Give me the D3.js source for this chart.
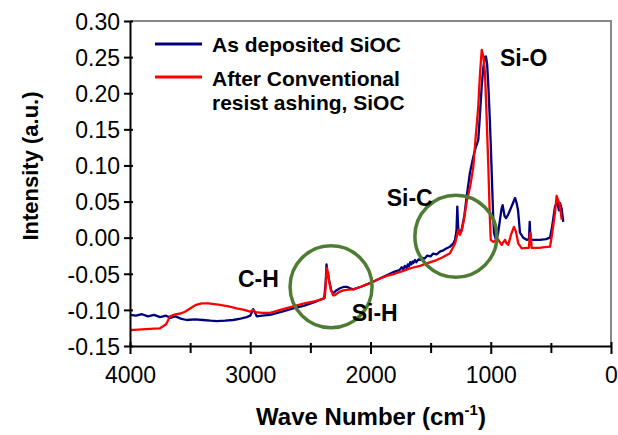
<!DOCTYPE html>
<html>
<head>
<meta charset="utf-8">
<script src="https://cdn.jsdelivr.net/npm/d3@7"></script>
<style>
  html, body { margin: 0; padding: 0; background: #fff; }
  svg { display: block; }
  text { font-family: "Liberation Sans", Arial, sans-serif; fill: #000; }
</style>
</head>
<body>
<svg id="chart" width="618" height="435"></svg>
<script>
// FTIR spectra of SiOC film: as deposited vs. after conventional resist ashing
const depWave = [4000,3950,3900,3850,3800,3750,3700,3667,3620,3580,3528,3460,3393,3330,3279,3210,3143,3080,3030,3000,2975,2960,2946,2900,2836,2750,2642,2550,2460,2420,2385,2372,2366,2360,2352,2340,2325,2309,2285,2254,2220,2198,2170,2143,2080,2004,1940,1865,1800,1760,1740,1727,1715,1700,1690,1680,1670,1660,1650,1644,1630,1620,1600,1588,1570,1550,1530,1500,1480,1450,1420,1400,1370,1339,1311,1297,1285,1278,1271,1264,1242,1220,1200,1173,1145,1125,1104,1090,1075,1062,1050,1040,1030,1020,1012,1000,992,980,973,956,940,923,910,901,885,873,855,840,815,798,785,773,757,730,701,682,676,670,665,620,590,540,507,490,466,447,433,424,410,397];
const depIntensity = [-0.107,-0.108,-0.106,-0.109,-0.107,-0.110,-0.108,-0.111,-0.109,-0.112,-0.114,-0.113,-0.114,-0.115,-0.1155,-0.115,-0.114,-0.112,-0.110,-0.108,-0.099,-0.104,-0.109,-0.108,-0.107,-0.103,-0.098,-0.094,-0.089,-0.086,-0.084,-0.060,-0.037,-0.045,-0.052,-0.062,-0.074,-0.077,-0.073,-0.070,-0.068,-0.068,-0.070,-0.0715,-0.068,-0.063,-0.058,-0.052,-0.047,-0.045,-0.041,-0.044,-0.039,-0.042,-0.037,-0.040,-0.034,-0.037,-0.033,-0.035,-0.031,-0.034,-0.030,-0.031,-0.028,-0.029,-0.025,-0.026,-0.022,-0.023,-0.019,-0.018,-0.015,-0.0125,-0.008,-0.003,0.010,0.043,0.015,0.006,0.011,0.030,0.057,0.090,0.112,0.125,0.135,0.170,0.210,0.235,0.250,0.251,0.240,0.210,0.181,0.130,0.090,0.030,0.007,-0.003,0.005,0.025,0.040,0.045,0.030,0.027,0.032,0.038,0.048,0.055,0.048,0.038,0.007,0.000,-0.003,-0.002,0.022,-0.002,-0.003,-0.003,-0.003,-0.002,0.000,0.015,0.043,0.050,0.038,0.048,0.040,0.022];

const ashWave = [4000,3900,3800,3751,3700,3667,3640,3612,3580,3543,3500,3450,3404,3350,3300,3252,3180,3113,3050,3002,2975,2960,2900,2836,2750,2642,2550,2460,2400,2380,2372,2366,2362,2357,2352,2345,2330,2310,2295,2260,2226,2180,2143,2080,2004,1940,1865,1800,1727,1660,1588,1520,1450,1400,1339,1311,1297,1283,1270,1256,1240,1220,1200,1170,1145,1125,1104,1090,1075,1060,1048,1035,1020,1008,1000,979,960,940,925,909,895,881,868,854,830,807,790,771,743,700,682,675,668,660,600,550,507,490,466,452,440,430,420,410];
const ashIntensity = [-0.128,-0.127,-0.126,-0.1255,-0.120,-0.109,-0.107,-0.106,-0.105,-0.1025,-0.098,-0.093,-0.091,-0.091,-0.092,-0.093,-0.095,-0.098,-0.100,-0.1025,-0.100,-0.103,-0.104,-0.104,-0.100,-0.095,-0.091,-0.088,-0.085,-0.083,-0.065,-0.045,-0.042,-0.055,-0.048,-0.060,-0.072,-0.080,-0.0795,-0.075,-0.073,-0.072,-0.0715,-0.068,-0.063,-0.058,-0.053,-0.050,-0.046,-0.042,-0.039,-0.035,-0.031,-0.027,-0.0215,-0.0125,-0.008,0.001,0.011,0.004,0.010,0.028,0.050,0.072,0.098,0.140,0.181,0.225,0.260,0.250,0.228,0.170,0.098,0.030,-0.003,-0.006,-0.004,-0.002,-0.006,-0.010,-0.006,-0.003,-0.008,-0.010,0.005,0.015,0.008,-0.008,-0.0147,-0.014,-0.014,0.006,0.006,-0.014,-0.014,-0.013,-0.0125,0.005,0.034,0.058,0.052,0.048,0.038,0.025];

const xTickValues = [4000,3500,3000,2500,2000,1500,1000,500,0];
const xTickLabels = ["4000","","3000","","2000","","1000","","0"];
const yTickValues = [-0.15,-0.10,-0.05,0.00,0.05,0.10,0.15,0.20,0.25,0.30];
const yTickLabels = ["-0.15","-0.10","-0.05","0.00","0.05","0.10","0.15","0.20","0.25","0.30"];

const seriesNames = ["As deposited SiOC", "After Conventional|resist ashing, SiOC"];
const seriesColors = ["#00007f", "#ff0000"];

// Band annotations: label, wave number, intensity at the text baseline
const bandLabels = [
  { text: "Si-O", wn: 923,  v: 0.238 },
  { text: "Si-C", wn: 1865, v: 0.044 },
  { text: "C-H",  wn: 3102, v: -0.068 },
  { text: "Si-H", wn: 2156, v: -0.116 }
];
// Highlight rings around the bands of interest
const rings = [
  { wn: 2328, v: -0.068 },
  { wn: 1290, v: 0.002 }
];

const svg = d3.select("#chart");
const x = d3.scaleLinear().domain([4000, 0]).range([130, 611]);
const y = d3.scaleLinear().domain([-0.15, 0.30]).range([346, 21]);

// Plot frame: grey top and right edges
svg.append("path")
  .attr("d", `M${x(4000)},${y(0.30)}H${x(0)}V${y(-0.15)}`)
  .attr("fill", "none").attr("stroke", "#888").attr("stroke-width", 2);

// Spectra
const line = d3.line().x(d => x(d[0])).y(d => y(d[1]));
const depData = depWave.map((w, i) => [w, depIntensity[i]]);
const ashData = ashWave.map((w, i) => [w, ashIntensity[i]]);
svg.append("path").datum(depData).attr("d", line)
  .attr("fill", "none").attr("stroke", seriesColors[0]).attr("stroke-width", 2.3)
  .attr("stroke-linejoin", "round");
svg.append("path").datum(ashData).attr("d", line)
  .attr("fill", "none").attr("stroke", seriesColors[1]).attr("stroke-width", 2.3)
  .attr("stroke-linejoin", "round");

// Axes
const xAxis = svg.append("g").attr("transform", `translate(0,${y(-0.15)})`)
  .call(d3.axisBottom(x).tickValues(xTickValues)
    .tickFormat((d, i) => xTickLabels[i]).tickSizeOuter(0));
xAxis.select(".domain").attr("stroke", "#000").attr("stroke-width", 2);
xAxis.selectAll(".tick line").attr("stroke", "#000").attr("stroke-width", 2)
  .attr("y1", (d) => d % 1000 === 0 ? -4 : -3).attr("y2", (d) => d % 1000 === 0 ? 8 : 7);
xAxis.selectAll(".tick text").attr("y", 37).attr("dy", 0)
  .attr("font-size", 23).attr("font-family", "Liberation Sans, Arial, sans-serif").attr("fill", "#000");

const yAxis = svg.append("g").attr("transform", `translate(${x(4000)},0)`)
  .call(d3.axisLeft(y).tickValues(yTickValues)
    .tickFormat((d, i) => yTickLabels[i]).tickSizeOuter(0));
yAxis.select(".domain").attr("stroke", "#000").attr("stroke-width", 2);
yAxis.selectAll(".tick line").attr("stroke", "#000").attr("stroke-width", 2)
  .attr("x1", 3).attr("x2", -6);
yAxis.selectAll(".tick text").attr("x", -10).attr("dy", "0.36em")
  .attr("font-size", 23).attr("font-family", "Liberation Sans, Arial, sans-serif").attr("fill", "#000");

// Axis titles
const xTitle = svg.append("text").attr("x", 371).attr("y", 425)
  .attr("text-anchor", "middle").attr("font-size", 24).attr("font-weight", "bold");
xTitle.append("tspan").text("Wave Number (cm");
xTitle.append("tspan").text("-1").attr("font-size", 15).attr("dy", -10);
xTitle.append("tspan").text(")").attr("dy", 10);

svg.append("text").attr("transform", "translate(38,166) rotate(-90)")
  .attr("text-anchor", "middle").attr("font-size", 22).attr("font-weight", "bold")
  .text("Intensity (a.u.)");

// Legend
const legend = svg.append("g");
const legendRows = [{ ly: 44, ty: 52 }, { ly: 77, ty: 86 }];
seriesNames.forEach((name, i) => {
  legend.append("line").attr("x1", 155).attr("x2", 202)
    .attr("y1", legendRows[i].ly).attr("y2", legendRows[i].ly)
    .attr("stroke", seriesColors[i]).attr("stroke-width", 3);
  name.split("|").forEach((part, j) => {
    legend.append("text").attr("x", 212).attr("y", legendRows[i].ty + j * 24)
      .attr("font-size", 21).attr("font-weight", "bold").text(part);
  });
});

// Highlight rings
svg.selectAll("circle.ring").data(rings).join("circle").attr("class", "ring")
  .attr("cx", d => x(d.wn)).attr("cy", d => y(d.v)).attr("r", 41)
  .attr("fill", "none").attr("stroke", "#4f7c33").attr("stroke-width", 3.5);

// Band labels
svg.selectAll("text.band").data(bandLabels).join("text").attr("class", "band")
  .attr("x", d => x(d.wn)).attr("y", d => y(d.v))
  .attr("font-size", 23).attr("font-weight", "bold").text(d => d.text);
</script>
</body>
</html>
